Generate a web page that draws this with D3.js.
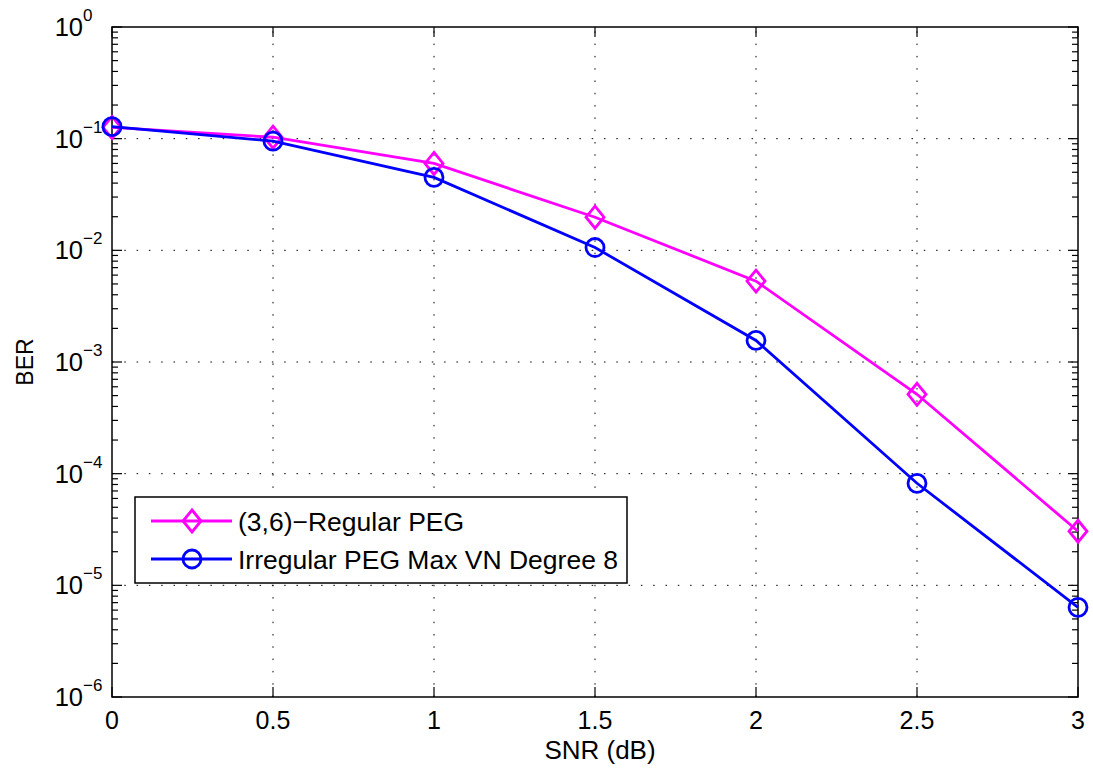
<!DOCTYPE html>
<html>
<head>
<meta charset="utf-8">
<script src="https://cdn.jsdelivr.net/npm/d3@7"></script>
<style>
  body { margin: 0; background: #fff; }
  text { font-family: "Liberation Sans", Arial, Helvetica, sans-serif; fill: #000; }
</style>
</head>
<body>
<svg width="1093" height="773"></svg>
<script>
// data
const snr = [0, 0.5, 1, 1.5, 2, 2.5, 3];
const berRegular = [0.126, 0.103, 0.060, 0.0198, 0.0053, 0.000514, 0.0000305];
const berIrregular = [0.128, 0.095, 0.045, 0.0106, 0.00156, 0.000082, 0.00000635];
const xTicks = [0, 0.5, 1, 1.5, 2, 2.5, 3];
const xTickLabels = ['0', '0.5', '1', '1.5', '2', '2.5', '3'];
const yExponents = [0, -1, -2, -3, -4, -5, -6];
const seriesNames = ['(3,6)\u2212Regular PEG', 'Irregular PEG Max VN Degree 8'];
const seriesColours = ['#ff00ff', '#0000ff'];

const svg = d3.select('svg');
const plot = {left: 112, right: 1078, top: 27, bottom: 697};

const x = d3.scaleLinear().domain([0, 3]).range([plot.left, plot.right]);
const y = d3.scaleLog().domain([1e-6, 1]).range([plot.bottom, plot.top]);

// grid
const grid = svg.append('g')
    .attr('stroke', '#000').attr('stroke-width', 1).attr('stroke-dasharray', '1.5,10.8');
grid.selectAll('.gx').data(xTicks.slice(1, -1)).join('line')
    .attr('x1', d => x(d)).attr('x2', d => x(d))
    .attr('y1', plot.bottom).attr('y2', plot.top);
grid.selectAll('.gy').data(yExponents.slice(1, -1)).join('line')
    .attr('y1', d => y(Math.pow(10, d))).attr('y2', d => y(Math.pow(10, d)))
    .attr('x1', plot.left).attr('x2', plot.right);

// ticks
const ticks = svg.append('g').attr('stroke', '#000').attr('stroke-width', 1.2);
xTicks.forEach(t => {
    ticks.append('line').attr('x1', x(t)).attr('x2', x(t)).attr('y1', plot.bottom).attr('y2', plot.bottom - 10);
    ticks.append('line').attr('x1', x(t)).attr('x2', x(t)).attr('y1', plot.top).attr('y2', plot.top + 10);
});
const minor = [];
yExponents.forEach(e => {
    if (e === 0) return;
    for (let k = 2; k <= 9; k++) minor.push(k * Math.pow(10, e));
});
yExponents.forEach(e => {
    const yy = y(Math.pow(10, e));
    ticks.append('line').attr('x1', plot.left).attr('x2', plot.left + 10).attr('y1', yy).attr('y2', yy);
    ticks.append('line').attr('x1', plot.right).attr('x2', plot.right - 10).attr('y1', yy).attr('y2', yy);
});
minor.forEach(v => {
    const yy = y(v);
    ticks.append('line').attr('x1', plot.left).attr('x2', plot.left + 6).attr('y1', yy).attr('y2', yy);
    ticks.append('line').attr('x1', plot.right).attr('x2', plot.right - 6).attr('y1', yy).attr('y2', yy);
});

// frame
svg.append('rect')
    .attr('x', plot.left).attr('y', plot.top)
    .attr('width', plot.right - plot.left).attr('height', plot.bottom - plot.top)
    .attr('fill', 'none').attr('stroke', '#000').attr('stroke-width', 1.5);

// tick labels
svg.selectAll('.xl').data(xTicks).join('text')
    .attr('x', d => x(d)).attr('y', 729)
    .attr('text-anchor', 'middle').attr('font-size', 25)
    .text((d, i) => xTickLabels[i]);
yExponents.forEach(e => {
    const yy = y(Math.pow(10, e));
    svg.append('text').attr('x', 83).attr('y', yy + 9)
        .attr('text-anchor', 'end').attr('font-size', 25.5).text('10');
    svg.append('text').attr('x', 83).attr('y', yy - 6)
        .attr('font-size', 17).text(e === 0 ? '0' : '\u2212' + (-e));
});

// axis labels
svg.append('text').attr('x', 600).attr('y', 759)
    .attr('text-anchor', 'middle').attr('font-size', 26).text('SNR (dB)');
svg.append('text').attr('transform', 'translate(33,362) rotate(-90)')
    .attr('text-anchor', 'middle').attr('font-size', 23).text('BER');

// series
const line = d3.line().x(d => x(d[0])).y(d => y(d[1]));
const diamond = (cx, cy) => `M${cx},${cy - 11}L${cx + 9},${cy}L${cx},${cy + 11}L${cx - 9},${cy}Z`;

function drawSeries(values, colour, marker) {
    const pts = snr.map((s, i) => [s, values[i]]);
    const g = svg.append('g');
    g.append('path').attr('d', line(pts))
        .attr('fill', 'none').attr('stroke', colour).attr('stroke-width', 2.8);
    if (marker === 'diamond') {
        g.selectAll('path.m').data(pts).join('path').attr('class', 'm')
            .attr('d', d => diamond(x(d[0]), y(d[1])))
            .attr('fill', 'none').attr('stroke', colour).attr('stroke-width', 2.8);
    } else {
        g.selectAll('circle').data(pts).join('circle')
            .attr('cx', d => x(d[0])).attr('cy', d => y(d[1])).attr('r', 9)
            .attr('fill', 'none').attr('stroke', colour).attr('stroke-width', 2.8);
    }
}
drawSeries(berRegular, seriesColours[0], 'diamond');
drawSeries(berIrregular, seriesColours[1], 'circle');

// legend
const legend = svg.append('g');
legend.append('rect').attr('x', 135).attr('y', 497).attr('width', 492).attr('height', 86)
    .attr('fill', '#fff').attr('stroke', '#000').attr('stroke-width', 1.5);
seriesNames.forEach((name, i) => {
    const ly = 521 + i * 38;
    legend.append('line').attr('x1', 151).attr('x2', 232).attr('y1', ly).attr('y2', ly)
        .attr('stroke', seriesColours[i]).attr('stroke-width', 2.8);
    if (i === 0) {
        legend.append('path').attr('d', diamond(192, ly))
            .attr('fill', 'none').attr('stroke', seriesColours[i]).attr('stroke-width', 2.8);
    } else {
        legend.append('circle').attr('cx', 192).attr('cy', ly).attr('r', 9)
            .attr('fill', 'none').attr('stroke', seriesColours[i]).attr('stroke-width', 2.8);
    }
    legend.append('text').attr('x', 238).attr('y', ly + 9.5)
        .attr('font-size', 26.5).text(name);
});
</script>
</body>
</html>
